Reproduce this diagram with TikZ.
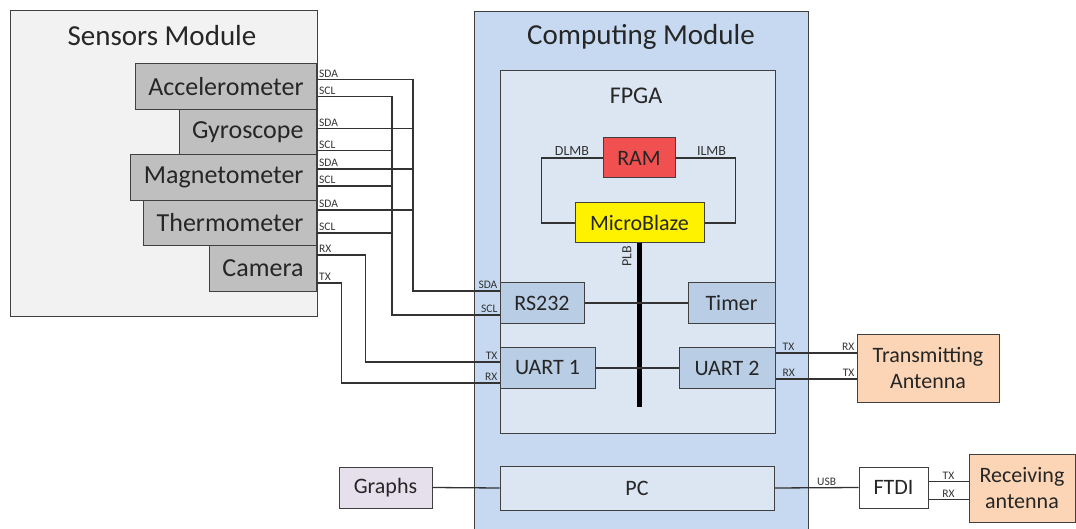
\documentclass[tikz,border=0pt]{standalone}
\usepackage{fontspec}
\setmainfont{Carlito}
\usepackage{tikz}
\usetikzlibrary{positioning,calc}
\definecolor{sensgray}{HTML}{F2F2F2}
\definecolor{boxgray}{HTML}{BFBFBF}
\definecolor{cmblue}{HTML}{C6D9F1}
\definecolor{fpgablue}{HTML}{DCE6F2}
\definecolor{ipblue}{HTML}{B9CDE5}
\definecolor{ramred}{HTML}{F05050}
\definecolor{antpeach}{HTML}{FBD5B5}
\definecolor{graphlav}{HTML}{E6E0EC}
\definecolor{edgegray}{HTML}{404040}
\tikzset{
  blk/.style={draw=edgegray, line width=1pt, inner sep=0pt, text=black!85, font=\fontsize{22}{24}\selectfont},
  sensor/.style={blk, fill=boxgray, anchor=east, inner xsep=13pt, minimum height=45.5pt, font=\fontsize{26}{28}\selectfont},
  modname/.style={text=black!85, font=\fontsize{29}{32}\selectfont},
  wire/.style={draw=black!80, line width=1.3pt},
  pinlbl/.style={text=black!80, inner sep=1.5pt, font=\fontsize{11.5}{12}\selectfont},
  buslbl/.style={pinlbl, font=\fontsize{14}{15}\selectfont},
}

\begin{document}
\begin{tikzpicture}[x=1pt,y=-1pt]
\useasboundingbox (0,0) rectangle (1076,529);

% sensors module
\node (sm) [blk, fill=sensgray, minimum width=307pt, minimum height=305pt] at (163.5,163.5) {};
\node (smname) [modname] at (162,36) {Sensors Module};

\node (acc) [sensor] at (317,86.5) {Accelerometer};
\node (gyro) [sensor] at (317,132) {Gyroscope};
\node (mag) [sensor] at (317,177.5) {Magnetometer};
\node (therm) [sensor] at (317,223) {Thermometer};
\node (cam) [sensor] at (317,268.5) {Camera};

% computing module
\node (cm) [blk, fill=cmblue, minimum width=334pt, minimum height=535pt, anchor=north] at (641,11) {};
\node (cmname) [modname] at (641,37) {Computing Module};

\node (fpga) [blk, fill=fpgablue, minimum width=275pt, minimum height=362pt] at (637.5,252) {};
\node (fpganame) [text=black!85, font=\fontsize{24}{26}\selectfont] at (636,96) {FPGA};

\node (ram) [blk, fill=ramred, minimum width=72pt, minimum height=40pt] at (639,158) {RAM};
\node (mb) [blk, fill=yellow, minimum width=129pt, minimum height=40pt] at (639.5,223) {MicroBlaze};

\node (rs) [blk, fill=ipblue, minimum width=84pt, minimum height=40pt] at (542,303) {RS232};
\node (tmr) [blk, fill=ipblue, minimum width=87pt, minimum height=40pt] at (731.5,303) {Timer};
\node (u1) [blk, fill=ipblue, minimum width=95pt, minimum height=41pt] at (547.5,368) {UART 1};
\node (u2) [blk, fill=ipblue, minimum width=96pt, minimum height=41pt] at (727,368) {UART 2};

\node (pc) [blk, fill=fpgablue, minimum width=274pt, minimum height=44pt] at (637,488) {PC};

% outside blocks
\node (gr) [blk, fill=graphlav, minimum width=93pt, minimum height=41pt] at (385.5,487.5) {Graphs};
\node (ftdi) [blk, fill=white, minimum width=69pt, minimum height=41pt] at (893.5,487.5) {FTDI};
\node (tant) [blk, fill=antpeach, minimum width=142pt, minimum height=68pt, align=center] at (928,368) {Transmitting\\[2pt]Antenna};
\node (rant) [blk, fill=antpeach, minimum width=106pt, minimum height=68pt, align=center] at (1022,488) {Receiving\\[2pt]antenna};

% memory buses and PLB
\draw[wire] (ram.west) -| node[buslbl, pos=0.25, above] {DLMB} ([xshift=-33pt]mb.west) -- (mb.west);
\draw[wire] (ram.east) -| node[buslbl, pos=0.3, above] {ILMB} ([xshift=31pt]mb.east) -- (mb.east);

\coordinate (plbend) at (639.5,407);
\draw[line width=5pt] (mb.south) -- (plbend);
\node (plb) [buslbl, rotate=90] at ([xshift=-12.5pt,yshift=-13pt]mb.south) {PLB};

\draw[wire] (rs.east) -- (tmr.west);
\draw[wire] (u1.east) -- (u2.west);

% I2C lines
\coordinate (sda) at (413,291);
\coordinate (scl) at (392,315);

\draw[wire] ([yshift=7pt]acc.east) node[pinlbl, anchor=south west] {SDA} -| (sda) -- (sda -| rs.west) node[pinlbl, anchor=south east] {SDA};
\draw[wire] ([yshift=-10pt]acc.east) node[pinlbl, anchor=south west] {SCL} -| (scl) -- (scl -| rs.west) node[pinlbl, anchor=south east] {SCL};

\draw[wire] ([yshift=3.5pt]gyro.east) node[pinlbl, anchor=south west] {SDA} -- ([yshift=3.5pt]sda |- gyro.east);
\draw[wire] ([yshift=-18.5pt]gyro.east) node[pinlbl, anchor=south west] {SCL} -- ([yshift=-18.5pt]scl |- gyro.east);
\draw[wire] ([yshift=8.5pt]mag.east) node[pinlbl, anchor=south west] {SDA} -- ([yshift=8.5pt]sda |- mag.east);
\draw[wire] ([yshift=-8.5pt]mag.east) node[pinlbl, anchor=south west] {SCL} -- ([yshift=-8.5pt]scl |- mag.east);
\draw[wire] ([yshift=13pt]therm.east) node[pinlbl, anchor=south west] {SDA} -- ([yshift=13pt]sda |- therm.east);
\draw[wire] ([yshift=-10pt]therm.east) node[pinlbl, anchor=south west] {SCL} -- ([yshift=-10pt]scl |- therm.east);

% camera serial lines
\draw[wire] ([yshift=13.5pt]cam.east) node[pinlbl, anchor=south west] {RX} -| ([xshift=-134pt,yshift=6pt]u1.west) -- ([yshift=6pt]u1.west) node[pinlbl, anchor=south east] {TX};
\draw[wire] ([yshift=-14.5pt]cam.east) node[pinlbl, anchor=south west] {TX} -| ([xshift=-158pt,yshift=-15pt]u1.west) -- ([yshift=-15pt]u1.west) node[pinlbl, anchor=south east] {RX};

% radio link
\draw[wire] ([yshift=15pt]u2.east) node[pinlbl, anchor=south west, xshift=5pt] {TX} -- ([yshift=15pt]u2.east -| tant.west) node[pinlbl, anchor=south east] {RX};
\draw[wire] ([yshift=-11pt]u2.east) node[pinlbl, anchor=south west, xshift=5pt] {RX} -- ([yshift=-11pt]u2.east -| tant.west) node[pinlbl, anchor=south east] {TX};

% PC side
\draw[wire] (gr.east) -- (pc.west);
\draw[wire] (pc.east) -- node[pinlbl, pos=0.62, above] {USB} (ftdi.west);
\draw[wire] ([yshift=6pt]ftdi.east) -- node[pinlbl, above] {TX} ([yshift=6pt]ftdi.east -| rant.west);
\draw[wire] ([yshift=-12pt]ftdi.east) -- node[pinlbl, above] {RX} ([yshift=-12pt]ftdi.east -| rant.west);

\end{tikzpicture}
\end{document}
